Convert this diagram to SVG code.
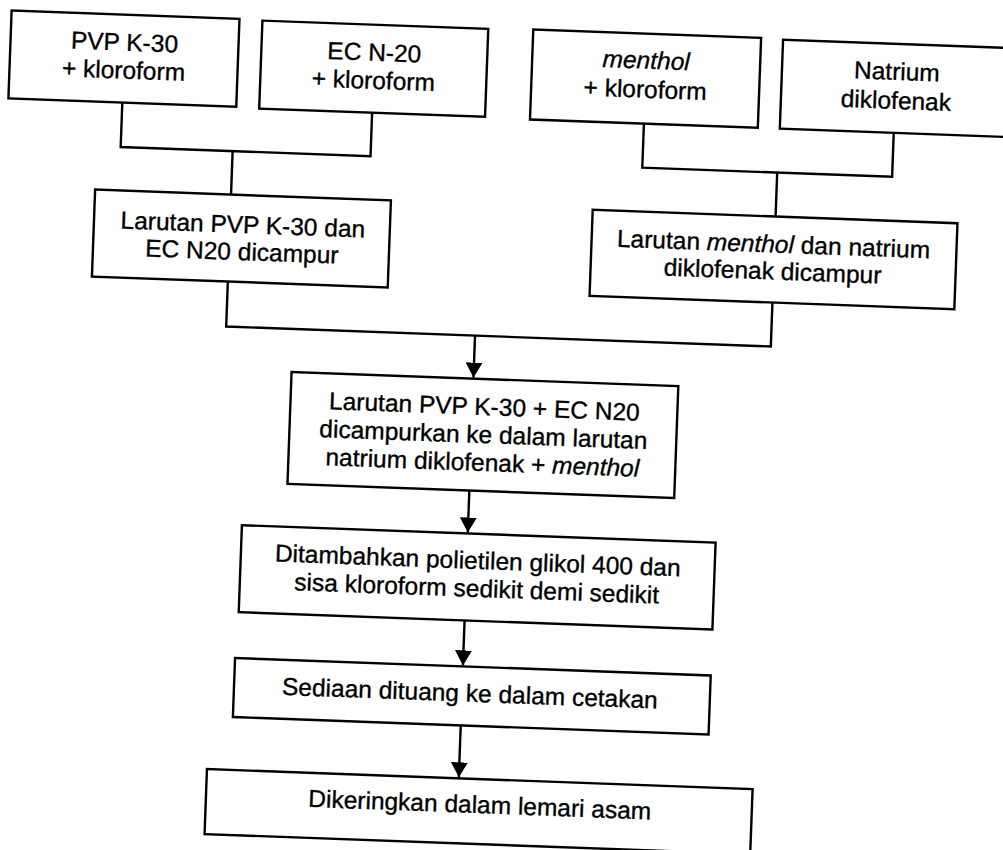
<svg xmlns="http://www.w3.org/2000/svg" width="1003" height="850" viewBox="0 0 1003 850">
  <defs>
    <style>
      .box { fill: #ffffff; stroke: #000000; stroke-width: 2.4; }
      .line { fill: none; stroke: #000000; stroke-width: 2.4; }
      .lbl { font-family: "Liberation Sans", Arial, sans-serif; font-size: 24.5px; fill: #000000; stroke: #000000; stroke-width: 0.35; text-anchor: middle; }
      .it { font-style: italic; }
    </style>
    <marker id="arrow" markerUnits="userSpaceOnUse" markerWidth="18" markerHeight="17" refX="15" refY="8.5" orient="auto">
      <path d="M0,0 L15,8.5 L0,17 Z" fill="#000000"/>
    </marker>
  </defs>
  <rect x="0" y="0" width="1003" height="850" fill="#ffffff"/>
  <g transform="rotate(2.1)">
    <g id="connectors">
      <path class="line" d="M126,98 V142.5 H376 V99"/>
      <path class="line" d="M238,142.5 V186"/>
      <path class="line" d="M648,100 V144 H898 V100"/>
      <path class="line" d="M783,144 V188"/>
      <path class="line" d="M238,273 V318 H783 V274"/>
      <path class="line" d="M487,318 V360" marker-end="url(#arrow)"/>
      <path class="line" d="M487,473 V515" marker-end="url(#arrow)"/>
      <path class="line" d="M487,603 V648" marker-end="url(#arrow)"/>
      <path class="line" d="M487,708 V760" marker-end="url(#arrow)"/>
    </g>
    <g id="n1">
      <rect class="box" x="12" y="10" width="228" height="88"/>
      <text class="lbl" x="126" y="46">PVP K-30</text>
      <text class="lbl" x="126" y="74">+ kloroform</text>
    </g>
    <g id="n2">
      <rect class="box" x="263" y="11" width="226" height="88"/>
      <text class="lbl" x="376" y="47">EC N-20</text>
      <text class="lbl" x="376" y="75">+ kloroform</text>
    </g>
    <g id="n3">
      <rect class="box" x="534" y="10" width="228" height="90"/>
      <text class="lbl it" x="648" y="45">menthol</text>
      <text class="lbl" x="648" y="74">+ kloroform</text>
    </g>
    <g id="n4">
      <rect class="box" x="784" y="11" width="232" height="89"/>
      <text class="lbl" x="899" y="47">Natrium</text>
      <text class="lbl" x="899" y="76">diklofenak</text>
    </g>
    <g id="n5">
      <rect class="box" x="102" y="186" width="296" height="87"/>
      <text class="lbl" x="251" y="224">Larutan PVP K-30 dan</text>
      <text class="lbl" x="251" y="251">EC N20 dicampur</text>
    </g>
    <g id="n6">
      <rect class="box" x="600" y="188" width="365" height="86"/>
      <text class="lbl" x="782" y="224">Larutan <tspan class="it">menthol</tspan> dan natrium</text>
      <text class="lbl" x="782" y="251">diklofenak dicampur</text>
    </g>
    <g id="n7">
      <rect class="box" x="305" y="361" width="387" height="112"/>
      <text class="lbl" x="499" y="397">Larutan PVP K-30 + EC N20</text>
      <text class="lbl" x="499" y="425">dicampurkan ke dalam larutan</text>
      <text class="lbl" x="499" y="453">natrium diklofenak + <tspan class="it">menthol</tspan></text>
    </g>
    <g id="n8">
      <rect class="box" x="261" y="516" width="474" height="87"/>
      <text class="lbl" x="498" y="551">Ditambahkan polietilen glikol 400 dan</text>
      <text class="lbl" x="498" y="579">sisa kloroform sedikit demi sedikit</text>
    </g>
    <g id="n9">
      <rect class="box" x="259" y="649" width="476" height="59"/>
      <text class="lbl" x="495" y="684">Sediaan dituang ke dalam cetakan</text>
    </g>
    <g id="n10">
      <rect class="box" x="235" y="761" width="546" height="65"/>
      <text class="lbl" x="509" y="795">Dikeringkan dalam lemari asam</text>
    </g>
  </g>
</svg>
